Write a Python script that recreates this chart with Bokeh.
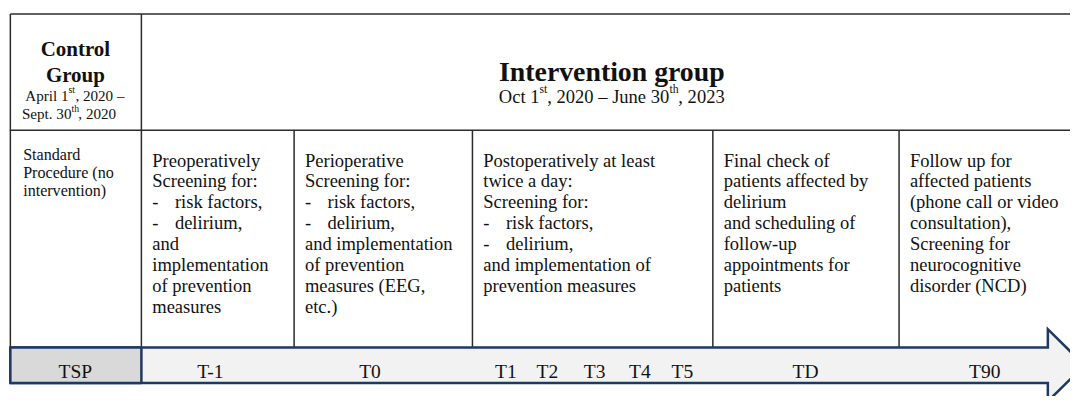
from bokeh.plotting import figure
from bokeh.models import Range1d, ColumnDataSource
from bokeh.embed import file_html
from bokeh.resources import INLINE
from bokeh.core.properties import value

# ---------------- data (texts) ----------------
control_title = ["Control", "Group"]
control_dates = [("April 1", "st", ", 2020 \u2013"), ("Sept. 30", "th", ", 2020")]
intervention_title = "Intervention group"
intervention_dates = [("Oct 1", "st"), (", 2020 \u2013 June 30", "th"), (", 2023", "")]

control_text = ["Standard", "Procedure (no", "intervention)"]
phase_texts = [
    ["Preoperatively", "Screening for:", "- risk factors,", "- delirium,", "and",
     "implementation", "of prevention", "measures"],
    ["Perioperative", "Screening for:", "- risk factors,", "- delirium,",
     "and implementation", "of prevention", "measures (EEG,", "etc.)"],
    ["Postoperatively at least", "twice a day:", "Screening for:", "- risk factors,",
     "- delirium,", "and implementation of", "prevention measures"],
    ["Final check of", "patients affected by", "delirium", "and scheduling of",
     "follow-up", "appointments for", "patients"],
    ["Follow up for", "affected patients", "(phone call or video", "consultation),",
     "Screening for", "neurocognitive", "disorder (NCD)"],
]
timepoints = ["TSP", "T-1", "T0", "T1", "T2", "T3", "T4", "T5", "TD", "T90"]

# ---------------- layout ----------------
col_edges = [10, 143, 298, 479, 723, 912]
tp_x = [76, 213, 375, 513, 555, 603, 649, 692, 817, 999]
top_y, head_y, band_top, band_bot = 14, 135, 361, 398
head_x, head_tip = 1063, 1100
head_top, head_bot = 342, 417

FS = 0.975  # font scale (figure is slightly smaller than the reference frame)
FONT = value("Liberation Serif")
INK = "#111111"
LINE = "#2b2b2b"
NAVY = "#1f3864"

p = figure(width=1070, height=396, x_range=Range1d(0, 1086), y_range=Range1d(412, 0),
           output_backend="svg", toolbar_location=None, min_border=0,
           background_fill_color="white", border_fill_color="white")
p.outline_line_color = None
p.axis.visible = False
p.grid.visible = False


def fs(px):
    return "%.2fpx" % (px * FS)


def txt(xs, ys, texts, size, align="left", style="normal"):
    src = ColumnDataSource(dict(x=xs, y=ys, t=texts))
    p.text(x="x", y="y", text="t", source=src, text_font=FONT, text_font_size=fs(size),
           text_align=align, text_baseline="alphabetic", text_color=INK,
           text_font_style=style)


# ---- table lines ----
segs = dict(x0=[], y0=[], x1=[], y1=[])
def seg(a, b, c, d):
    segs["x0"].append(a); segs["y0"].append(b); segs["x1"].append(c); segs["y1"].append(d)

seg(10, top_y, 1095, top_y)
seg(10, head_y, 1095, head_y)
seg(10, top_y, 10, band_top)
seg(143, top_y, 143, band_top)
for xe in col_edges[2:]:
    seg(xe, head_y, xe, band_top)
p.segment(x0="x0", y0="y0", x1="x1", y1="y1", source=ColumnDataSource(segs),
          line_color=LINE, line_width=1.5)

# ---- arrow ----
p.patch([10, head_x, head_x, head_tip, head_x, head_x, 10],
        [band_top, band_top, head_top, (band_top + band_bot) / 2, head_bot, band_bot, band_bot],
        fill_color="#f2f2f2", line_color=NAVY, line_width=2.5, line_join="miter")
p.quad(left=[10], right=[143], top=[band_top], bottom=[band_bot],
       fill_color="#d9d9d9", line_color=NAVY, line_width=2.5)

# ---- headers ----
txt([76, 76], [50, 77], control_title, 21.5, align="center", style="bold")
for (a, s, b), yb, xm in zip(control_dates, [99, 118], [69, 72]):
    txt([xm], [yb], [a], 15.5, align="right")
    txt([xm], [yb - 6], [s], 10)
    txt([xm + 7], [yb], [b], 15.5)

txt([620.5], [74], [intervention_title], 28.5, align="center", style="bold")
txt([547], [100], [intervention_dates[0][0]], 19, align="right")
txt([547], [93], [intervention_dates[0][1]], 12)
txt([555], [100], [intervention_dates[1][0]], 19)
txt([679], [93], [intervention_dates[1][1]], 12)
txt([688], [100], [intervention_dates[2][0]], 19)

# ---- body texts ----
txt([23] * len(control_text), [160 + 18.8 * i for i in range(len(control_text))],
    control_text, 16.5)

for ci, lines in enumerate(phase_texts):
    x0 = col_edges[ci + 1] + 11
    xs, ys, ts = [], [], []
    for i, ln in enumerate(lines):
        yb = 166 + 21.7 * i
        if ln.startswith("- "):
            xs += [x0, x0 + 23]; ys += [yb, yb]; ts += ["-", ln[2:]]
        else:
            xs.append(x0); ys.append(yb); ts.append(ln)
    txt(xs, ys, ts, 19)

# ---- timepoints ----
txt(tp_x, [386] * len(tp_x), timepoints, 20, align="center")

open("out.html", "w").write(file_html(p, INLINE))
